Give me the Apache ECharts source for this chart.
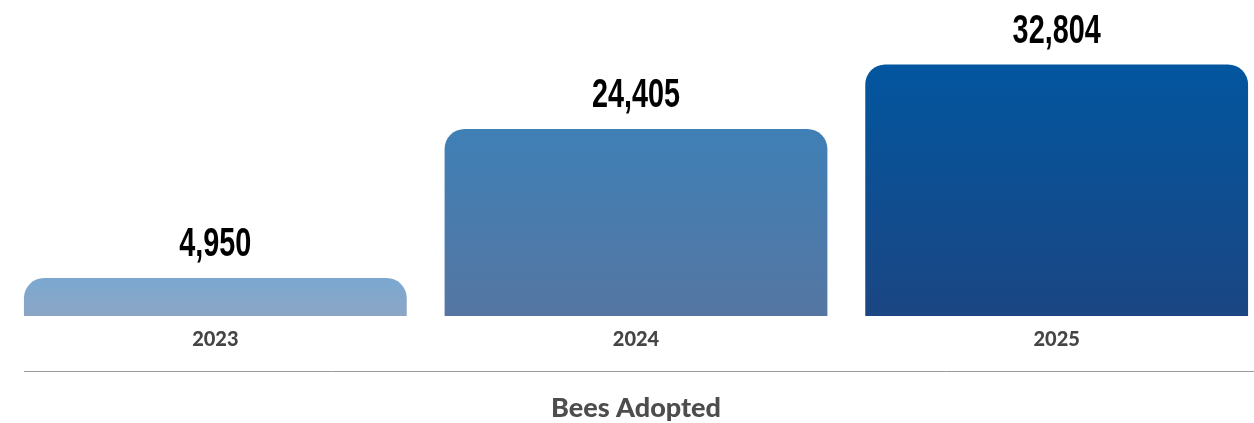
<!DOCTYPE html>
<html>
<head>
<meta charset="utf-8">
<script src="https://cdn.jsdelivr.net/npm/echarts@6/dist/echarts.min.js"></script>
<style>
html,body{margin:0;padding:0;background:#fff;}
#chart{width:1254px;height:423px;}
</style>
</head>
<body>
<div id="chart"></div>
<script>
const categories = ['2023', '2024', '2025'];
const beesAdopted = [4950, 24405, 32804];
const axisTitle = 'Bees Adopted';

const gradients = [
  ['#7ba8d0', '#8ba6c6'],
  ['#3f80b6', '#5576a2'],
  ['#02569f', '#1b4683']
];

const chart = echarts.init(document.getElementById('chart'), null, {renderer: 'canvas'});
chart.setOption({
  backgroundColor: '#ffffff',
  animation: false,
  grid: {left: 5, width: 1262, top: 40, bottom: 107, containLabel: false, outerBoundsMode: 'none'},
  xAxis: {
    type: 'category',
    data: categories,
    axisLine: {show: false},
    axisTick: {show: false},
    axisLabel: {
      margin: 14,
      fontFamily: 'Lato',
      fontWeight: 900,
      fontSize: 20,
      color: '#454545'
    }
  },
  yAxis: {
    type: 'value',
    min: 0,
    max: 36000,
    show: false,
    splitLine: {show: false}
  },
  series: [{
    type: 'bar',
    barCategoryGap: '9%',
    data: beesAdopted.map((v, i) => ({
      value: v,
      itemStyle: {
        color: new echarts.graphic.LinearGradient(0, 0, 0, 1, [
          {offset: 0, color: gradients[i][0]},
          {offset: 1, color: gradients[i][1]}
        ])
      }
    })),
    itemStyle: {borderRadius: [20, 20, 0, 0]}
  }, {
    type: 'custom',
    data: beesAdopted.map((v, i) => [i, v]),
    z: 5,
    renderItem: function (params, api) {
      const pt = api.coord([api.value(0), api.value(1)]);
      return {
        type: 'text',
        x: pt[0],
        y: pt[1] - 33,
        scaleX: 0.72,
        style: {
          text: api.value(1).toLocaleString('en-US'),
          font: 'bold 40px "Liberation Sans", Arial, sans-serif',
          fill: '#000000',
          textAlign: 'center',
          textVerticalAlign: 'middle'
        }
      };
    }
  }],
  graphic: [
    {type: 'line', shape: {x1: 24, y1: 371.5, x2: 1254, y2: 371.5}, style: {stroke: '#9a9a9a', lineWidth: 1}},
    {type: 'text', x: 636, y: 408, style: {text: axisTitle, fontFamily: 'Lato', fontWeight: 900, fontSize: 27, fill: '#4d4d4d', textAlign: 'center', textVerticalAlign: 'middle'}}
  ]
});
</script>
</body>
</html>
